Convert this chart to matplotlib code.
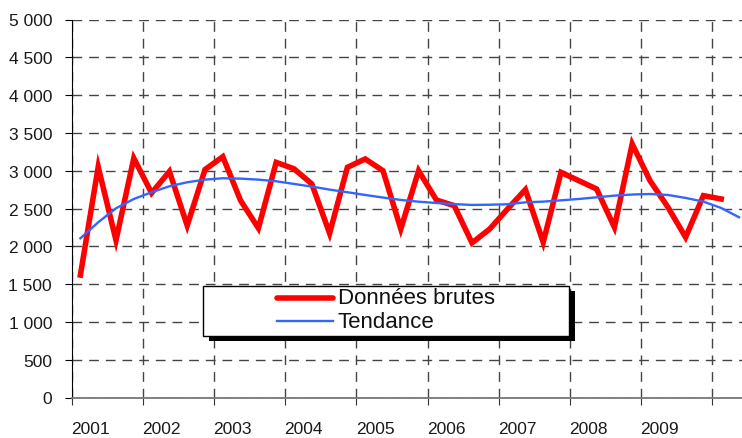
import matplotlib
matplotlib.use("Agg")
import matplotlib.pyplot as plt
from matplotlib.patches import Rectangle
from matplotlib.lines import Line2D

plt.rcParams['font.family'] = ['Liberation Sans', 'DejaVu Sans']

years = ["2001", "2002", "2003", "2004", "2005", "2006", "2007", "2008", "2009"]
raw = [1620, 3050, 2080, 3165, 2705, 2990, 2275, 3015, 3185, 2605, 2240, 3110,
       3025, 2825, 2172, 3045, 3155, 3000, 2230, 3000, 2612, 2538, 2045, 2230,
       2495, 2750, 2053, 2978, 2868, 2758, 2252, 3354, 2868, 2520, 2120, 2670,
       2626]
trend = [2106, 2318, 2503, 2626, 2715, 2794, 2847, 2882, 2900, 2895, 2882, 2860,
         2825, 2790, 2750, 2715, 2679, 2645, 2613, 2590, 2573, 2558, 2547, 2550,
         2556, 2582, 2591, 2608, 2626, 2648, 2670, 2685, 2692, 2679, 2640, 2591,
         2507, 2384]
yticks = [0, 500, 1000, 1500, 2000, 2500, 3000, 3500, 4000, 4500, 5000]
ytick_labels = ["0", "500", "1 000", "1 500", "2 000", "2 500", "3 000",
                "3 500", "4 000", "4 500", "5 000"]
legend_labels = ["Données brutes", "Tendance"]

W, H = 742, 439
fig = plt.figure(figsize=(W / 100, H / 100), dpi=100)
left, right, top, bottom = 71.5, 742, 20.5, 398.5
ax = fig.add_axes([left / W, 1 - bottom / H, (right - left) / W, (bottom - top) / H])

x_raw = list(range(len(raw)))
x_tr = list(range(len(trend)))
ax.plot(x_raw, raw, color='#FF0000', lw=4.0, solid_joinstyle='miter', zorder=3)
ax.plot(x_tr, trend, color='#3366FF', lw=1.7, zorder=4)

cat_w = 17.8
xmax = (right - 80.4) / cat_w
ax.set_xlim(-0.5, xmax)
ax.set_ylim(0, 5000)

ax.set_yticks(yticks)
ax.set_yticklabels(ytick_labels)
major_x = [4 * i - 0.5 for i in range(10)]
ax.set_xticks(major_x)
ax.set_xticklabels([])
ax.set_xticks([4 * i + 0.55 for i in range(len(years))], minor=True)
ax.set_xticklabels(years, minor=True)
ax.tick_params(axis='x', which='minor', length=0, pad=17, labelsize=12.5, colors='#1a1a1a')
ax.tick_params(axis='x', which='major', length=5, direction='out', color='#333333')
ax.tick_params(axis='y', length=5, direction='out', pad=9, labelsize=12.5, labelcolor='#1a1a1a')

ax.grid(True, which='major', axis='both', linestyle=(0, (7, 5)), color='#444444', lw=1.0, zorder=1)
ax.set_axisbelow(True)
for s in ['top', 'right']:
    ax.spines[s].set_visible(False)
ax.spines['left'].set_color('black')
ax.spines['bottom'].set_color('#777777')
ax.spines['bottom'].set_linewidth(1.3)

# legend drawn as box with hard shadow
def fx(px):
    return px / W

def fy(py):
    return 1 - py / H

bx0, bx1, by0, by1 = 203, 569, 286.7, 336.7
fig.patches.append(Rectangle((fx(bx0 + 6), fy(by1 + 5)), fx(bx1 - bx0), (by1 - by0) / H,
                             transform=fig.transFigure, facecolor='black', edgecolor='black',
                             lw=0, zorder=5))
fig.patches.append(Rectangle((fx(bx0), fy(by1)), fx(bx1 - bx0), (by1 - by0) / H,
                             transform=fig.transFigure, facecolor='white', edgecolor='black',
                             lw=1.0, zorder=6))
fig.lines.append(Line2D([fx(277), fx(333)], [fy(299), fy(299)], transform=fig.transFigure,
                        color='#FF0000', lw=4.0, solid_capstyle='round', zorder=7))
fig.lines.append(Line2D([fx(277), fx(333)], [fy(321.5), fy(321.5)], transform=fig.transFigure,
                        color='#3366FF', lw=1.7, zorder=7))
fig.text(fx(338), fy(299), legend_labels[0], fontsize=16, va='center', ha='left', zorder=8,
         color='#111111')
fig.text(fx(338), fy(322), legend_labels[1], fontsize=16, va='center', ha='left', zorder=8,
         color='#111111')

fig.savefig("out.png", dpi=100)
